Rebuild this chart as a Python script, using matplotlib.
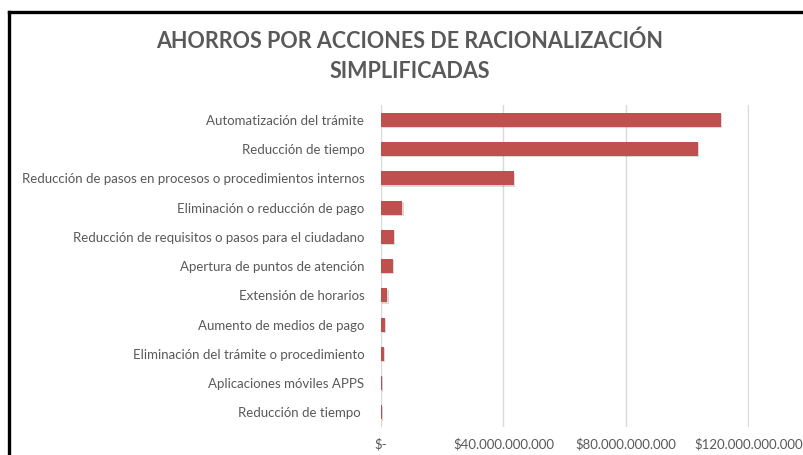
import matplotlib.pyplot as plt
import matplotlib.patheffects as pe
from matplotlib.ticker import FuncFormatter
from matplotlib.lines import Line2D

# Data, top to bottom
categorias = [
    "Automatización del trámite",
    "Reducción de tiempo",
    "Reducción de pasos en procesos o procedimientos internos",
    "Eliminación o reducción de pago",
    "Reducción de requisitos o pasos para el ciudadano",
    "Apertura de puntos de atención",
    "Extensión de horarios",
    "Aumento de medios de pago",
    "Eliminación del trámite o procedimiento",
    "Aplicaciones móviles APPS",
    "Reducción de tiempo ",
]
ahorros = [111.1e9, 103.6e9, 43.4e9, 6.9e9, 4.2e9, 3.9e9, 2.1e9,
           1.2e9, 0.9e9, 0.3e9, 0.2e9]
ticks_x = [0, 40e9, 80e9, 120e9]

titulo = "AHORROS POR ACCIONES DE RACIONALIZACIÓN\nSIMPLIFICADAS"
gris = "#595959"

plt.rcParams['font.family'] = ['Lato', 'DejaVu Sans']

fig = plt.figure(figsize=(8.04, 4.55), dpi=100)
ax = fig.add_axes([0.4739, 0.0615, 0.4575, 0.7075])

y = list(range(len(categorias)))
bars = ax.barh(y, ahorros, height=0.48, color="#C0504D", zorder=3)
for b in bars:
    b.set_path_effects([pe.SimplePatchShadow(offset=(1, -1), shadow_rgbFace="#000000", alpha=0.15),
                        pe.Normal()])

ax.set_yticks(y)
ax.set_yticklabels(categorias, fontsize=9.5, color=gris)
ax.set_ylim(len(categorias) - 0.5, -0.5)

ax.set_xlim(0, 120.2e9)
ax.set_xticks(ticks_x)


def pesos(v, pos):
    if v == 0:
        return "$-"
    return "$" + f"{v:,.0f}".replace(",", ".")


ax.xaxis.set_major_formatter(FuncFormatter(pesos))
ax.tick_params(axis='x', labelsize=9.5, labelcolor=gris, length=0, pad=8)
ax.tick_params(axis='y', length=0, pad=12)
ax.grid(axis='x', color="#D9D9D9", linewidth=1, zorder=0)
for s in ax.spines.values():
    s.set_visible(False)

fig.text(0.51, 1 - 56 / 455, titulo, ha='center', va='center', fontsize=15.5,
         fontweight='bold', color=gris, linespacing=1.55)

# black frame lines at top and left
fig.add_artist(Line2D([8.5 / 804, 1], [1 - 11.5 / 455, 1 - 11.5 / 455],
                      transform=fig.transFigure, color='black', linewidth=2.4))
fig.add_artist(Line2D([9.5 / 804, 9.5 / 804], [0, 1 - 11.5 / 455],
                      transform=fig.transFigure, color='black', linewidth=2.4))

fig.savefig("out.png", dpi=100)
